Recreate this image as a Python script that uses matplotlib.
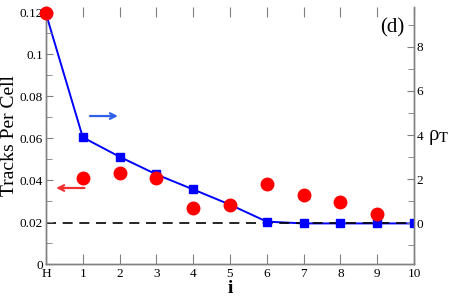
import matplotlib
matplotlib.use("Agg")
import matplotlib.pyplot as plt
from matplotlib.ticker import MultipleLocator

plt.rcParams['font.family'] = ['Liberation Serif', 'DejaVu Serif']
plt.rcParams['mathtext.fontset'] = 'stix'

# data
i_pos = [0, 1, 2, 3, 4, 5, 6, 7, 8, 9, 10]
i_labels = ['H', '1', '2', '3', '4', '5', '6', '7', '8', '9', '10']
tracks = [0.1195, 0.0408, 0.0435, 0.0411, 0.0268, 0.0281, 0.0380, 0.0329, 0.0294, 0.0237]
rho_T = [9.5, 3.9, 3.02, 2.22, 1.54, 0.85, 0.08, 0.0, 0.0, 0.0, 0.0]
rho_ref = 0.0

gray = '#808080'

fig = plt.figure(figsize=(4.5, 2.96), dpi=100)
ax = fig.add_axes([0.1022, 0.108, 0.8178, 0.868])
ax2 = ax.twinx()

# blue series sits under the red dots
ax.set_zorder(ax2.get_zorder() + 1)
ax.patch.set_visible(False)

ax2.plot(i_pos, rho_T, '-', color='#0000ff', lw=1.4, zorder=1)
ax2.axhline(rho_ref, color='black', ls=(0, (6, 4)), lw=1.2, zorder=2)
ax2.plot(i_pos, rho_T, 's', color='#0000ff', ms=6, zorder=3)

ax.plot(i_pos[:len(tracks)], tracks, 'o', color='#ff0000', ms=9, clip_on=False, zorder=3)

ax.set_xlim(0, 10)
ax.set_ylim(0, 0.1224)
ax2.set_ylim(-1.84, 9.8)

ax.set_xticks(i_pos)
ax.set_xticklabels(i_labels)
ax.set_yticks([0, 0.02, 0.04, 0.06, 0.08, 0.1, 0.12])
ax.set_yticklabels(['0', '0.02', '0.04', '0.06', '0.08', '0.1', '0.12'])
ax.yaxis.set_minor_locator(MultipleLocator(0.01))
ax2.set_yticks([0, 2, 4, 6, 8])
ax2.yaxis.set_minor_locator(MultipleLocator(1))

for a in (ax, ax2):
    for s in a.spines.values():
        s.set_color(gray)
        s.set_linewidth(1.0)
    a.spines['top'].set_visible(False)
ax.tick_params(axis='both', which='both', direction='in', color=gray, labelsize=9.5, pad=2)
ax.tick_params(axis='x', which='major', length=7, top=True, pad=3)
ax.tick_params(axis='y', which='major', length=5)
ax.tick_params(axis='y', which='minor', length=4)
ax2.tick_params(axis='y', which='both', direction='in', color=gray, labelsize=9.5, pad=2)
ax2.tick_params(axis='y', which='major', length=5)
ax2.tick_params(axis='y', which='minor', length=4)

ax.set_ylabel('Tracks Per Cell', fontsize=14)
ax.yaxis.set_label_coords(-0.076, 0.5)
ax.set_xlabel('i', fontsize=14, fontweight='bold', labelpad=0)
ax2.text(1.038, 0.494, r'ρ$_{\mathrm{T}}$', transform=ax2.transAxes, fontsize=15,
         ha='left', va='center')

ax.text(0.94, 0.92, '(d)', transform=ax.transAxes, fontsize=15, ha='center', va='center')

ax.annotate('', xy=(0.203, 0.576), xytext=(0.112, 0.576), xycoords='axes fraction',
            arrowprops=dict(arrowstyle='->', color='#3060e8', lw=1.6))
ax.annotate('', xy=(0.02, 0.296), xytext=(0.112, 0.296), xycoords='axes fraction',
            arrowprops=dict(arrowstyle='->', color='#f03030', lw=1.6))

fig.savefig('out.png', dpi=100)
